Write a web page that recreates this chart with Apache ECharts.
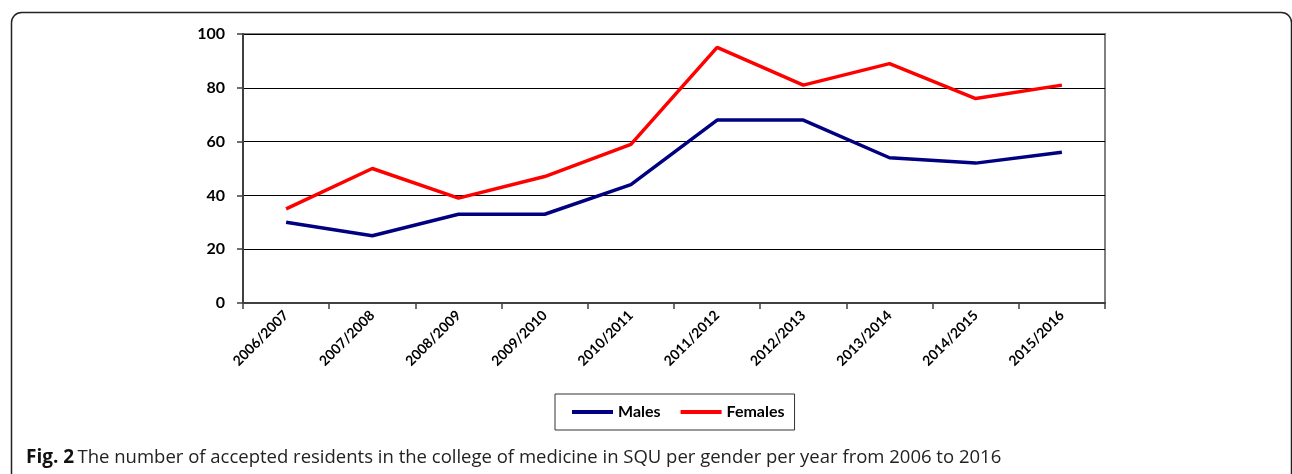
<!DOCTYPE html>
<html>
<head>
<meta charset="utf-8">
<script src="https://cdn.jsdelivr.net/npm/echarts@6/dist/echarts.min.js"></script>
<style>
  html, body { margin: 0; padding: 0; background: #fff; }
  #chart { width: 1292px; height: 474px; }
</style>
</head>
<body>
<div id="chart"></div>
<script>
const years = ['2006/2007', '2007/2008', '2008/2009', '2009/2010', '2010/2011',
  '2011/2012', '2012/2013', '2013/2014', '2014/2015', '2015/2016'];
const males = [30, 25, 33, 33, 44, 68, 68, 54, 52, 56];
const females = [35, 50, 39, 47, 59, 95, 81, 89, 76, 81];
const yTicks = [0, 20, 40, 60, 80, 100];

const chart = echarts.init(document.getElementById('chart'));

const labelFont = 'Lato, "Open Sans", sans-serif';

chart.setOption({
  animation: false,
  backgroundColor: '#fff',
  grid: {
    left: 243, right: 187, top: 34, bottom: 171,
    show: true, borderColor: '#808080', borderWidth: 2
  },
  legend: {
    left: 555, top: 394,
    padding: [10, 10, 10, 17],
    itemGap: 20,
    itemWidth: 41, itemHeight: 4,
    borderColor: '#333', borderWidth: 1,
    textStyle: { fontFamily: labelFont, fontWeight: 'bold', fontSize: 16, color: '#000' },
    data: [
      { name: 'Males', icon: 'rect' },
      { name: 'Females', icon: 'rect' }
    ]
  },
  xAxis: {
    type: 'category',
    data: years,
    boundaryGap: true,
    axisLine: { lineStyle: { color: '#404040', width: 2 } },
    axisTick: { show: true, length: 6, lineStyle: { color: '#404040', width: 1.5 } },
    axisLabel: {
      rotate: 45, interval: 0, margin: 10,
      fontFamily: labelFont, fontWeight: 'bold', fontSize: 14, color: '#000'
    }
  },
  yAxis: {
    type: 'value',
    min: yTicks[0], max: yTicks[yTicks.length - 1], interval: 20,
    axisLine: { show: true, lineStyle: { color: '#404040', width: 2 } },
    axisTick: { show: true, length: 6, lineStyle: { color: '#404040', width: 1.5 } },
    axisLabel: {
      margin: 18,
      fontFamily: labelFont, fontWeight: 'bold', fontSize: 16, color: '#000'
    },
    splitLine: { lineStyle: { color: '#000', width: 1 } }
  },
  series: [
    {
      name: 'Males', type: 'line', data: males,
      symbol: 'none', color: '#000080',
      lineStyle: { width: 3.5, color: '#000080' }
    },
    {
      name: 'Females', type: 'line', data: females,
      symbol: 'none', color: '#ff0000',
      lineStyle: { width: 3.5, color: '#ff0000' }
    }
  ],
  graphic: [
    {
      type: 'rect', left: 9, top: 10, silent: true,
      shape: { width: 1280, height: 500, r: 10 },
      style: { fill: null, stroke: '#222', lineWidth: 1.5 }
    },
    {
      type: 'text', left: 26, top: 448,
      style: {
        rich: {
          b: { fontFamily: '"Open Sans", sans-serif', fontWeight: 'bold', fontSize: 19, fill: '#111' },
          n: { fontFamily: '"Open Sans", sans-serif', fontSize: 18.5, fill: '#222' }
        },
        text: '{b|Fig. 2} {n|The number of accepted residents in the college of medicine in SQU per gender per year from 2006 to 2016}'
      }
    }
  ]
});
</script>
</body>
</html>
